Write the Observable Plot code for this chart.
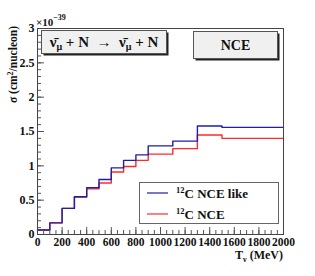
<!DOCTYPE html>
<html><head><meta charset="utf-8">
<script src="https://cdn.jsdelivr.net/npm/d3@7"></script>
<script src="https://cdn.jsdelivr.net/npm/@observablehq/plot@0.6"></script>
<style>
body{margin:0;background:#fff;}
#chart svg{font-family:"Liberation Serif","Times New Roman",serif;font-weight:bold;}
</style>
</head><body><div id="chart"></div>
<script>
// Bin edges (MeV) and per-bin cross sections (×10^-39 cm²/nucleon)
const binEdges = [0,100,200,300,400,500,600,700,800,900,1100,1300,1500,2000];
const nceLike = [0.065,0.17,0.38,0.55,0.68,0.80,0.97,1.08,1.16,1.29,1.36,1.58,1.56];
const nce     = [0.065,0.17,0.38,0.545,0.665,0.75,0.91,0.99,1.08,1.17,1.25,1.45,1.40];
const seriesNames = ["NCE like","NCE"];
const seriesColors = ["#1e1ea8","#ff2a2a"];
const yMajor = [0,0.5,1,1.5,2,2.5,3];
const yMinor = d3.range(0,3.0001,0.1);
const xMajor = [0,200,400,600,800,1000,1200,1400,1600,1800,2000];
const xMinor = d3.range(0,2001,50);

function steps(vals){ return binEdges.map((e,i)=>({x:e, y: vals[Math.min(i, vals.length-1)]})); }

const W = 315, H = 276, mL = 37, mR = 32, mT = 28, mB = 42;
const axisColor = "#555";

const plot = Plot.plot({
  width: W, height: H,
  marginLeft: mL, marginRight: mR, marginTop: mT, marginBottom: mB,
  style: {fontFamily: "Liberation Serif, Times New Roman, serif", fontWeight: "bold", fontSize: "11.5px", background: "white", color: "#111"},
  x: {domain: [0,2000]},
  y: {domain: [0,3]},
  marks: [
    Plot.line(steps(nce), {x:"x", y:"y", curve:"step-after", stroke: seriesColors[1], strokeWidth: 1.4}),
    Plot.line(steps(nceLike), {x:"x", y:"y", curve:"step-after", stroke: seriesColors[0], strokeWidth: 1.4}),
    Plot.axisY({ticks: yMinor, tickSize: -4, tickFormat: () => "", stroke: axisColor, label: null}),
    Plot.axisY({ticks: yMajor, tickSize: -7, tickFormat: () => "", stroke: axisColor, label: null}),
    Plot.axisY({ticks: yMajor, tickSize: 0, tickPadding: 3, tickFormat: d => String(d), fontSize: 12, fill: "#111", label: null}),
    Plot.axisX({ticks: xMinor, tickSize: -4, tickFormat: () => "", stroke: axisColor, label: null}),
    Plot.axisX({ticks: xMajor, tickSize: -7, tickFormat: () => "", stroke: axisColor, label: null}),
    Plot.axisX({ticks: xMajor, tickSize: 0, tickPadding: 3, tickFormat: d => String(d), fontSize: 11.5, fill: "#111", label: null}),
    Plot.frame({stroke: "#444", strokeWidth: 1})
  ]
});
document.getElementById("chart").appendChild(plot);

const svg = d3.select(plot);
// exponent
const ex = svg.append("text").attr("x", 36).attr("y", 26).attr("text-anchor", "start").attr("font-size", 11).attr("fill", "#111");
ex.append("tspan").text("×10");
ex.append("tspan").attr("font-size", 8).attr("dy", -6).text("−39");

// y title
const yt = svg.append("text").attr("transform", "translate(16.5,26) rotate(-90)")
  .attr("text-anchor", "end").attr("font-size", 11.5).attr("fill", "#111");
yt.append("tspan").text("σ (cm");
yt.append("tspan").attr("font-size", 8).attr("dy", -4).text("2");
yt.append("tspan").attr("dy", 4).text("/nucleon)");

// x title
const xt = svg.append("text").attr("x", 283).attr("y", 259).attr("text-anchor", "end").attr("font-size", 12).attr("fill", "#111");
xt.append("tspan").text("T");
xt.append("tspan").attr("font-size", 8).attr("dy", 3).text("ν");
xt.append("tspan").attr("dy", -3).text(" (MeV)");

// boxes with shadow
function box(x, y, w, h){
  svg.append("rect").attr("x", x+2).attr("y", y+2).attr("width", w).attr("height", h).attr("fill", "#222");
  svg.append("rect").attr("x", x).attr("y", y).attr("width", w).attr("height", h).attr("fill", "#f0f0f0").attr("stroke", "#555");
}
box(41.5, 30.5, 125, 23);
const t1 = svg.append("text").attr("x", 104).attr("y", 47).attr("text-anchor", "middle").attr("font-size", 15).attr("fill", "#111");
t1.append("tspan").text("ν\u0304");
t1.append("tspan").attr("font-size", 10).attr("dy", 3).text("μ");
t1.append("tspan").attr("dy", -3).text(" + N  →  ν\u0304");
t1.append("tspan").attr("font-size", 10).attr("dy", 3).text("μ");
t1.append("tspan").attr("dy", -3).text(" + N");

box(193.5, 31.5, 84, 27);
svg.append("text").attr("x", 235.5).attr("y", 50).attr("text-anchor", "middle").attr("font-size", 14).attr("fill", "#111").text("NCE");

// legend
svg.append("rect").attr("x", 139.5).attr("y", 182.5).attr("width", 139).attr("height", 41).attr("fill", "white").attr("stroke", "#666");
[193, 214].forEach((yy, i) => {
  svg.append("line").attr("x1", 147).attr("x2", 168).attr("y1", yy).attr("y2", yy).attr("stroke", seriesColors[i]).attr("stroke-width", 1.2);
  const lt = svg.append("text").attr("x", 176).attr("y", yy + 4.5).attr("text-anchor", "start").attr("font-size", 13).attr("fill", "#111");
  lt.append("tspan").attr("font-size", 8.5).attr("dy", -5).text("12");
  lt.append("tspan").attr("dy", 5).text("C " + seriesNames[i]);
});
</script>
</body></html>
